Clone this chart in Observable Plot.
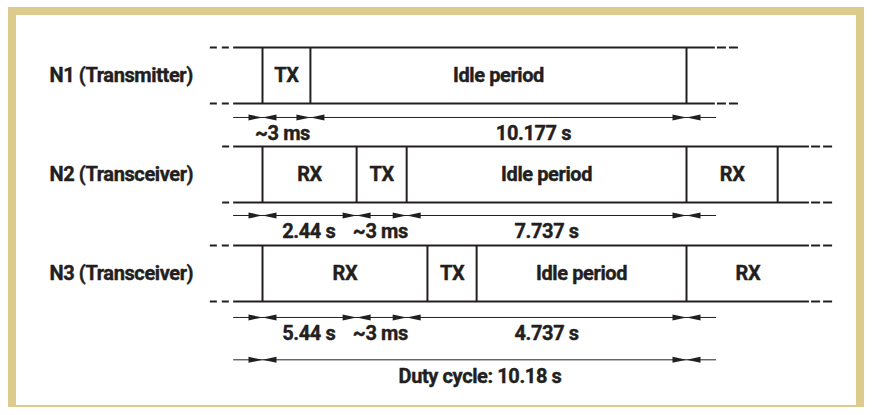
<!DOCTYPE html>
<html>
<head>
<meta charset="utf-8">
<script src="https://cdn.jsdelivr.net/npm/d3@7"></script>
<script src="https://cdn.jsdelivr.net/npm/@observablehq/plot@0.6"></script>
<style>
  html, body { margin: 0; padding: 0; background: #ffffff; }
  #wrap { position: relative; width: 875px; height: 415px; overflow: hidden; }
  #border { position: absolute; left: 8px; top: 7px; width: 840px; height: 390px;
            border-left: 8px solid #dccb8c; border-top: 8px solid #dccb8c;
            border-right: 8px solid #dccb8c; border-bottom: 2px solid #dccb8c; box-sizing: content-box; }
  #chart { position: absolute; left: 0; top: 0; }
  #chart svg text { letter-spacing: -0.4px; }
</style>
</head>
<body>
<div id="wrap"><div id="border"></div><div id="chart"></div></div>
<script>
// Schematic time units: 0 = start of the duty cycle, 100 = end of the duty cycle.
const lanes = ["N1 (Transmitter)", "N2 (Transceiver)", "N3 (Transceiver)"];

const n1Segments = [
  {label: "TX", start: 0, end: 11.3},
  {label: "Idle period", start: 11.3, end: 100}
];
const n2Segments = [
  {label: "RX", start: 0, end: 22.2},
  {label: "TX", start: 22.2, end: 34},
  {label: "Idle period", start: 34, end: 100},
  {label: "RX", start: 100, end: 121.5}
];
const n3Segments = [
  {label: "RX", start: 0, end: 38.9},
  {label: "TX", start: 38.9, end: 50.5},
  {label: "Idle period", start: 50.5, end: 100},
  {label: "RX", start: 100, end: 129, open: true}
];

// visible extent of each timeline (solid part) and of its dashed continuation
const laneLines = [
  {lane: 0, from: -6.8, to: 106.8, leadIn: -12.3, leadOut: 112.3},
  {lane: 1, from: -6.8, to: 129, leadIn: -9.4, leadOut: 134.7},
  {lane: 2, from: -6.8, to: 129, leadIn: -12.3, leadOut: 134.7}
];

// dimension rows (track position in lane units)
const dimRows = [
  {name: "N1", track: 0.424, from: -6.8, to: 107.1},
  {name: "N2", track: 1.414, from: -6.8, to: 107.1},
  {name: "N3", track: 2.444, from: -6.8, to: 107.1},
  {name: "duty", track: 2.872, from: -6.8, to: 107.1}
];
const dimTicks = {
  N1: [0, 11.3, 100],
  N2: [0, 22.2, 34, 100],
  N3: [0, 22.2, 34, 100],
  duty: [0, 100]
};
const dimLabels = {
  N1: [{text: "~3 ms", at: 4.7}, {text: "10.177 s", at: 63.9}],
  N2: [{text: "2.44 s", at: 10.9}, {text: "~3 ms", at: 27.8}, {text: "7.737 s", at: 67.0}],
  N3: [{text: "5.44 s", at: 10.9}, {text: "~3 ms", at: 27.8}, {text: "4.737 s", at: 67.0}],
  duty: [{text: "Duty cycle: 10.18 s", at: 51.3}]
};

// ---- build tables ----
const segments = [n1Segments, n2Segments, n3Segments]
  .flatMap((segs, lane) => segs.map(s => ({...s, lane})));
const boundaries = [n1Segments, n2Segments, n3Segments].flatMap((segs, lane) => {
  const xs = new Set();
  segs.forEach(s => { xs.add(s.start); if (!s.open) xs.add(s.end); });
  return [...xs].map(x => ({lane, x}));
});
const ticks = dimRows.flatMap(r => dimTicks[r.name].map(x => ({x, y: r.track})));
const labels = dimRows.flatMap(r => dimLabels[r.name].map(l => ({...l, y: r.track})));

const H = 0.283; // half-height of a lane box in lane units
const ink = "#231f20";
const font = "Roboto, 'Noto Sans', sans-serif";

const arrowRight = {draw(ctx) { ctx.moveTo(0, 0); ctx.lineTo(-14, -3); ctx.lineTo(-14, 3); ctx.closePath(); }};
const arrowLeft = {draw(ctx) { ctx.moveTo(0, 0); ctx.lineTo(14, -3); ctx.lineTo(14, 3); ctx.closePath(); }};

const lineEdges = laneLines.flatMap(l => [{...l, y: l.lane - H}, {...l, y: l.lane + H}]);
const textStyle = {fill: ink, stroke: ink, strokeWidth: 0.4, fontSize: 20, fontWeight: "bold", fontFamily: font};

const chart = Plot.plot({
  width: 875,
  height: 415,
  margin: 0,
  x: {domain: [-262 / 4.24, 613 / 4.24], axis: null},
  y: {domain: [-75 / 99, 340 / 99], reverse: true, axis: null},
  marks: [
    // top & bottom lines of each timeline
    Plot.ruleY(lineEdges, {y: "y", x1: "from", x2: "to", stroke: ink, strokeWidth: 2}),
    // dashed lead-in / lead-out
    Plot.ruleY(lineEdges, {y: "y", x1: "leadIn", x2: "from", stroke: ink, strokeWidth: 2, strokeDasharray: "7,5"}),
    Plot.ruleY(lineEdges, {y: "y", x1: d => d.to + 0.5, x2: "leadOut", stroke: ink, strokeWidth: 2, strokeDasharray: "9,3"}),
    // boundaries
    Plot.ruleX(boundaries, {x: "x", y1: d => d.lane - H, y2: d => d.lane + H, stroke: ink, strokeWidth: 2}),
    // segment labels
    Plot.text(segments, {x: d => (d.start + d.end) / 2, y: "lane", text: "label", ...textStyle}),
    // lane labels
    Plot.text(lanes, {y: (d, i) => i, text: d => d, frameAnchor: "left", textAnchor: "start", dx: 49, ...textStyle}),
    // dimension lines
    Plot.ruleY(dimRows, {y: "track", x1: "from", x2: "to", stroke: ink, strokeWidth: 1}),
    Plot.dot(ticks, {x: "x", y: "y", symbol: arrowRight, fill: ink, stroke: "none"}),
    Plot.dot(ticks, {x: "x", y: "y", symbol: arrowLeft, fill: ink, stroke: "none"}),
    Plot.text(labels, {x: "at", y: "y", text: "text", dy: 16.5, ...textStyle})
  ]
});
document.getElementById("chart").appendChild(chart);
</script>
</body>
</html>
